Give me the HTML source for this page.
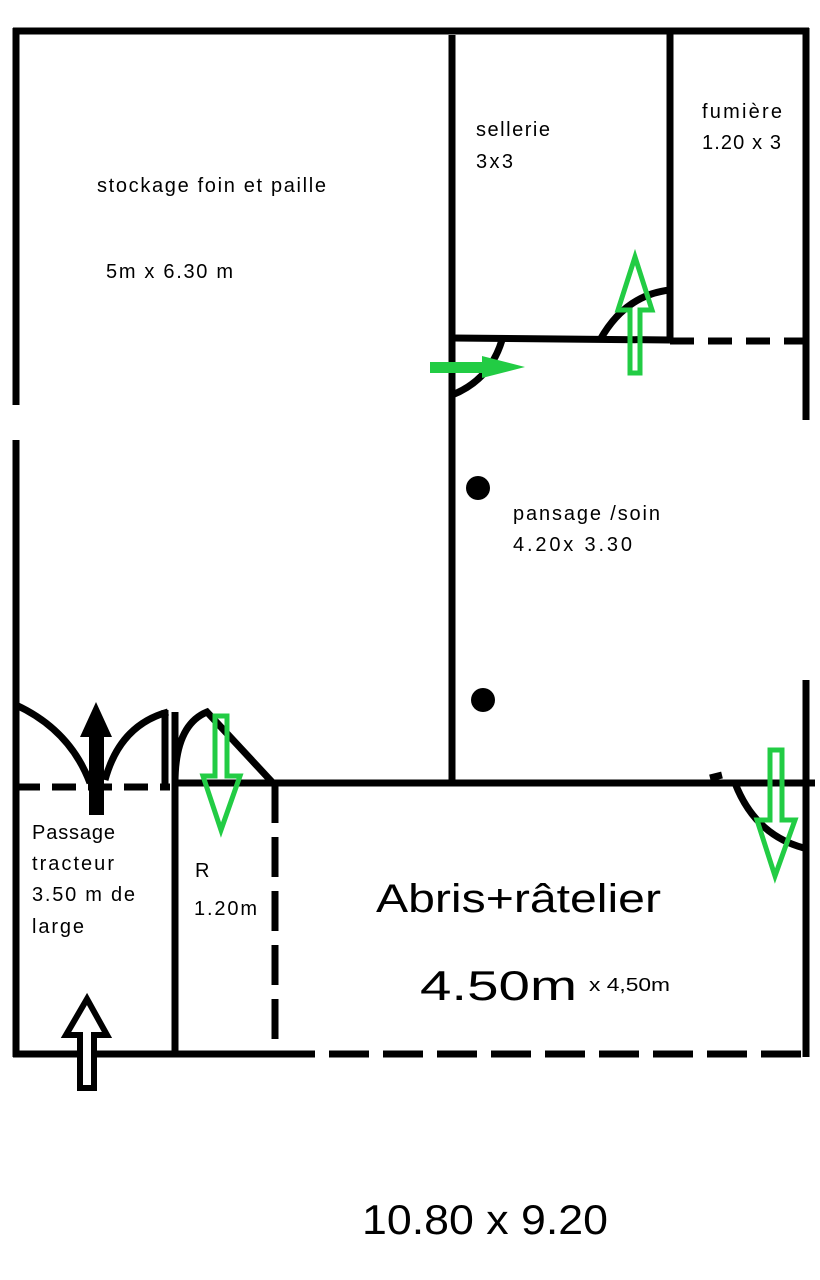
<!DOCTYPE html><html><head><style>body{margin:0;background:#fff}svg{display:block}text{font-family:"Liberation Sans",sans-serif;fill:#000}</style></head><body>
<svg width="820" height="1280" viewBox="0 0 820 1280" xmlns="http://www.w3.org/2000/svg">
<g stroke="#000" stroke-width="7" fill="none" stroke-linecap="butt">
<line x1="13" y1="31" x2="809" y2="31"/>
<line x1="16" y1="28" x2="16" y2="405"/>
<line x1="16" y1="440" x2="16" y2="1057"/>
<line x1="806" y1="28" x2="806" y2="420"/>
<line x1="806" y1="680" x2="806" y2="1057"/>
<line x1="452" y1="35" x2="452" y2="782"/>
<line x1="670" y1="31" x2="670" y2="340"/>
<line x1="452" y1="338" x2="670" y2="340"/>
<line x1="670" y1="341" x2="806" y2="341" stroke-dasharray="24,14"/>
<line x1="175" y1="783" x2="815" y2="783"/>
<line x1="16" y1="787" x2="170" y2="787" stroke-dasharray="24,12"/>
<line x1="175" y1="712" x2="175" y2="1054"/>
<line x1="165" y1="710" x2="165" y2="787"/>
<line x1="275" y1="783" x2="275" y2="1054" stroke-dasharray="40,14"/>
<line x1="13" y1="1054" x2="275" y2="1054"/>
<line x1="275" y1="1054" x2="809" y2="1054" stroke-dasharray="40,14"/>
<path d="M16 705 Q70 730 90 783"/>
<path d="M105 780 Q120 725 168 712"/>
<path d="M175 783 Q175 725 207 712 L272 782"/>
<path d="M600 340 Q625 295 670 290"/>
<path d="M452 395 Q490 380 502 340"/>
<path d="M735 783 Q755 835 804 848"/>
<line x1="710" y1="778" x2="722" y2="775"/>
</g>
<circle cx="478" cy="488" r="12"/>
<circle cx="483" cy="700" r="12"/>
<g fill="#22cc44" stroke="none"><polygon points="430,362 482,362 482,356 525,367 482,378 482,373 430,373"/></g>
<g fill="none" stroke="#22cc44" stroke-width="5">
<polygon points="630,373 640,373 640,310 652,310 635,257 618,310 630,310"/>
<polygon points="215,716 227,716 227,776 240,776 221,830 203,776 215,776"/>
<polygon points="770,750 782,750 782,820 795,820 775,876 757,820 770,820"/>
</g>
<polygon points="89,815 104,815 104,737 112,737 96,702 80,737 89,737" fill="#000"/>
<polygon points="80,1088 94,1088 94,1035 107,1035 87,999 66,1035 80,1035" fill="#fff" stroke="#000" stroke-width="6"/>
<g font-size="20" lengthAdjust="spacingAndGlyphs">
<text x="97" y="192" textLength="229">stockage foin et paille</text>
<text x="106" y="278" textLength="127">5m x 6.30 m</text>
<text x="476" y="136" textLength="74">sellerie</text>
<text x="476" y="168" textLength="37">3x3</text>
<text x="702" y="118" textLength="80">fumière</text>
<text x="702" y="149" textLength="79">1.20 x 3</text>
<text x="513" y="520" textLength="147">pansage /soin</text>
<text x="513" y="551" textLength="119">4.20x 3.30</text>
<text x="32" y="839" textLength="83">Passage</text>
<text x="32" y="870" textLength="82">tracteur</text>
<text x="32" y="901" textLength="103">3.50 m de</text>
<text x="32" y="933" textLength="52">large</text>
<text x="195" y="877" textLength="15">R</text>
<text x="194" y="915" textLength="63">1.20m</text>
</g>
<text x="376" y="912" font-size="40" textLength="285" lengthAdjust="spacingAndGlyphs">Abris+râtelier</text>
<text x="420" y="1000" font-size="42" textLength="157" lengthAdjust="spacingAndGlyphs">4.50m</text>
<text x="589" y="991" font-size="18" textLength="81" lengthAdjust="spacingAndGlyphs">x 4,50m</text>
<text x="362" y="1234" font-size="42" textLength="246" lengthAdjust="spacingAndGlyphs">10.80 x 9.20</text>
</svg></body></html>
